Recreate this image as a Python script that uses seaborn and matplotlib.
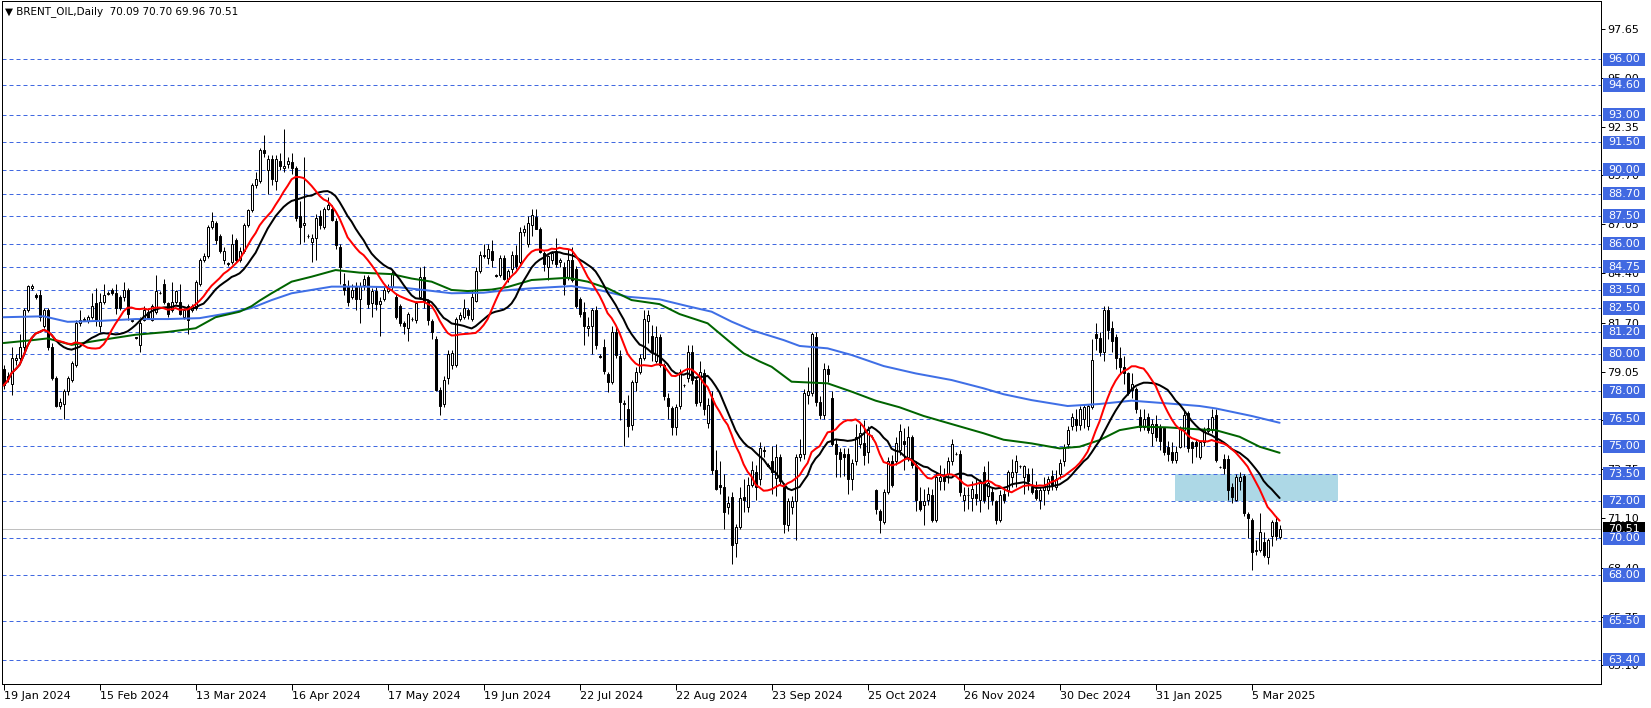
"""
BRENT_OIL daily candlestick chart (MT4 style) with moving averages,
horizontal support/resistance levels and a highlighted price zone.
"""

import numpy as np
import pandas as pd
import matplotlib
matplotlib.use("Agg")
import matplotlib.pyplot as plt
import matplotlib.transforms as mtransforms
from matplotlib.patches import Rectangle
import seaborn as sns


# ---------------------------------------------------------------------------
# Data (one entry per daily bar, oldest first)
# ---------------------------------------------------------------------------
opens = [
    79.2, 78.7, 78.4, 79.7, 79.8, 80.4, 82.4, 83.6, 83.2, 83.2,
    81.5, 82.4, 80.4, 78.7, 77.2, 77.3, 78.0, 78.6, 79.4, 81.67,
    81.85, 81.8, 82.0, 82.75, 81.5, 82.8, 83.25, 83.5, 83.3, 83.1,
    83.1, 83.5, 81.8, 80.9, 80.5, 81.85, 82.3, 81.85, 82.3, 83.3,
    83.8, 82.75, 82.4, 82.8, 82.8, 82.0, 82.6, 82.4, 82.5, 83.8,
    85.1, 85.3, 86.9, 87.1, 86.4, 85.1, 84.9, 85.0, 86.2, 85.1,
    85.6, 87.0, 87.8, 89.2, 89.4, 91.1, 90.0, 90.6, 89.4, 90.5,
    90.1, 90.3, 90.4, 90.1, 87.5, 87.0, 86.4, 86.1, 86.3, 87.5,
    86.9, 87.9, 87.9, 87.2, 85.8, 83.8, 83.7, 83.1, 83.65, 83.0,
    83.75, 84.2, 82.75, 83.4, 82.7, 83.0, 83.4, 83.65, 83.1, 82.6,
    81.7, 81.4, 81.9, 81.85, 83.1, 84.2, 82.9, 81.8, 80.8, 78.05,
    77.3, 78.7, 79.4, 79.4, 81.9, 82.0, 82.4, 81.9, 82.9, 84.5,
    85.4, 85.2, 85.6, 84.3, 84.3, 85.2, 84.1, 84.6, 85.4, 85.0,
    86.6, 86.0, 87.0, 87.45, 86.8, 85.5, 84.75, 85.1, 85.6, 85.0,
    84.7, 84.2, 85.1, 84.6, 83.0, 82.3, 81.4, 81.5, 82.4, 79.9,
    80.4, 78.9, 78.5, 81.2, 79.9, 77.3, 77.0, 76.15, 78.5, 79.0,
    79.8, 81.8, 81.0, 79.6, 80.95, 79.4, 77.6, 77.05, 76.06, 77.2,
    78.3, 78.7, 80.1, 78.6, 77.4, 78.95, 76.24, 77.6, 73.7, 72.9,
    72.8, 71.7, 72.26, 69.72, 70.63, 72.26, 71.7, 72.9, 73.6, 73.2,
    74.8, 74.0, 74.2, 73.25, 74.4, 72.8, 70.7, 71.7, 72.0, 74.4,
    74.6, 77.8, 77.9, 80.9, 77.4, 76.7, 79.2, 77.6, 75.1, 74.7,
    74.6, 74.6, 73.2, 74.2, 75.1, 75.15, 74.7, 75.5, 72.6, 71.5,
    70.9, 72.5, 74.2, 74.2, 74.8, 75.3, 74.4, 75.5, 74.0, 72.0,
    71.8, 72.1, 72.35, 71.0, 73.1, 73.3, 73.5, 74.2, 74.6, 74.6,
    72.1, 72.35, 72.2, 72.4, 72.1, 73.6, 72.3, 72.5, 72.0, 71.0,
    72.4, 72.6, 73.3, 73.6, 73.9, 73.3, 73.5, 72.8, 72.6, 72.1,
    72.6, 72.6, 73.4, 72.8, 73.5, 74.2, 75.1, 76.1, 76.5, 76.15,
    76.5, 76.1, 77.1, 81.1, 80.85, 80.1, 82.4, 81.4, 80.9, 79.8,
    79.3, 78.95, 78.05, 78.1, 76.6, 76.05, 76.6, 75.7, 76.2, 76.05,
    75.96, 74.97, 74.7, 74.25, 74.97, 75.9, 76.8, 75.2, 75.2, 74.4,
    75.2, 75.8, 75.9, 76.7, 73.85, 74.3, 74.3, 72.8, 72.1, 73.1,
    73.4, 71.3, 71.0, 69.3, 69.35, 69.8, 69.0, 70.1, 70.9, 70.09,
]
highs = [
    79.4, 79.0, 80.4, 80.0, 81.1, 82.5, 83.75, 83.8, 83.3, 83.5,
    82.5, 82.5, 80.6, 78.8, 77.6, 78.1, 78.8, 79.6, 81.85, 82.4,
    82.0, 82.1, 83.3, 83.6, 83.3, 83.8, 83.4, 83.6, 83.8, 83.2,
    83.9, 83.6, 81.9, 80.95, 82.0, 82.6, 82.5, 82.7, 84.3, 83.4,
    84.1, 82.8, 83.9, 83.5, 83.8, 82.5, 82.7, 82.7, 84.0, 85.2,
    85.5, 87.0, 87.7, 87.2, 86.5, 85.8, 85.0, 86.5, 86.3, 85.8,
    87.1, 87.9, 89.3, 89.9, 91.2, 91.9, 90.8, 90.8, 90.8, 90.9,
    92.2, 90.7, 90.9, 90.2, 88.3, 90.7, 86.5, 86.5, 87.6, 87.8,
    88.0, 88.5, 88.1, 87.4, 86.0, 84.4, 84.0, 83.8, 83.9, 83.9,
    84.3, 84.3, 83.6, 83.7, 83.1, 83.7, 83.8, 84.5, 83.3, 82.7,
    81.8, 82.3, 82.0, 82.9, 84.7, 84.8, 83.0, 81.9, 81.0, 78.2,
    78.8, 80.2, 80.2, 82.0, 82.3, 83.0, 82.5, 83.5, 84.7, 85.6,
    86.0, 86.0, 86.2, 84.35, 85.4, 85.4, 84.6, 85.6, 85.9, 86.9,
    87.0, 87.5, 87.9, 87.9, 86.9, 85.6, 85.4, 85.6, 86.3, 85.2,
    85.0, 85.7, 85.8, 84.8, 83.1, 82.8, 82.0, 82.5, 82.6, 80.0,
    80.8, 79.0, 81.5, 81.5, 80.2, 77.5, 77.8, 78.6, 79.3, 80.0,
    82.4, 82.4, 81.6, 81.5, 81.1, 79.5, 77.9, 77.2, 77.3, 79.2,
    78.4, 80.5, 80.5, 78.8, 79.6, 79.2, 77.6, 78.0, 74.8, 74.2,
    73.5, 72.3, 72.5, 70.8, 72.8, 73.2, 73.3, 74.2, 74.0, 75.2,
    75.0, 74.1, 75.0, 75.1, 74.6, 73.0, 72.2, 72.3, 74.6, 75.4,
    78.1, 79.3, 81.2, 81.2, 77.7, 79.5, 79.4, 78.0, 75.4, 74.9,
    74.9, 74.9, 74.3, 76.2, 76.3, 76.4, 76.1, 75.6, 72.7, 71.6,
    72.7, 74.4, 74.5, 75.5, 76.2, 76.0, 76.1, 75.6, 74.2, 72.8,
    72.7, 72.8, 72.7, 73.6, 74.0, 73.8, 74.4, 75.4, 74.7, 74.8,
    72.8, 72.8, 73.1, 73.2, 73.2, 73.9, 74.2, 72.8, 72.1, 72.6,
    72.8, 73.7, 74.3, 74.5, 74.0, 74.0, 73.8, 73.8, 73.1, 72.8,
    73.3, 73.4, 73.7, 73.7, 74.3, 75.1, 76.1, 76.8, 77.0, 77.2,
    77.3, 77.3, 80.8, 81.7, 81.2, 82.6, 82.6, 81.8, 81.1, 80.4,
    79.9, 79.05, 78.95, 78.2, 77.0, 77.0, 76.8, 76.5, 76.7, 76.2,
    76.05, 75.3, 75.2, 75.0, 76.1, 76.9, 76.9, 75.3, 75.4, 75.3,
    76.05, 76.5, 77.0, 77.0, 73.9, 74.6, 74.5, 73.0, 73.5, 73.6,
    73.5, 71.4, 71.1, 69.9, 71.35, 70.35, 70.0, 71.0, 71.2, 70.70,
]
lows = [
    78.1, 78.5, 77.8, 79.4, 79.6, 80.0, 82.3, 83.5, 83.0, 81.8,
    81.4, 80.2, 78.6, 77.1, 77.0, 76.5, 77.8, 78.5, 79.3, 81.5,
    81.8, 81.7, 81.9, 81.5, 81.2, 82.7, 83.2, 83.2, 82.2, 82.4,
    82.9, 81.85, 81.75, 80.8, 80.1, 81.8, 81.9, 81.8, 82.2, 83.25,
    82.7, 82.0, 82.3, 82.7, 82.1, 81.9, 81.1, 82.3, 82.4, 83.7,
    85.0, 85.2, 86.8, 86.0, 85.5, 84.9, 84.8, 84.9, 85.0, 85.0,
    85.5, 86.9, 87.7, 89.0, 89.3, 90.7, 88.7, 89.2, 88.9, 90.0,
    89.9, 90.1, 89.8, 87.2, 86.0, 86.1, 86.3, 85.0, 85.1, 86.8,
    86.8, 87.8, 87.2, 85.7, 83.8, 83.2, 82.6, 83.0, 82.4, 81.7,
    83.5, 82.5, 82.0, 82.4, 81.0, 82.9, 83.3, 83.5, 81.9, 81.5,
    81.1, 80.7, 81.8, 81.7, 83.0, 82.5, 81.6, 80.8, 78.0, 76.7,
    77.1, 78.4, 79.2, 79.3, 81.8, 81.9, 81.9, 81.8, 82.8, 84.4,
    85.2, 84.9, 84.7, 84.2, 84.2, 84.0, 83.9, 84.4, 84.6, 84.9,
    86.4, 85.8, 86.4, 86.8, 85.5, 84.5, 84.0, 84.9, 84.7, 84.7,
    83.2, 84.0, 83.9, 82.5, 82.0, 80.5, 81.0, 80.0, 80.3, 79.8,
    78.9, 77.96, 78.4, 79.8, 76.4, 75.0, 75.5, 75.9, 78.0, 78.9,
    79.7, 80.6, 79.6, 79.5, 79.3, 77.5, 76.5, 75.6, 75.6, 77.0,
    78.2, 78.5, 78.4, 77.2, 77.2, 76.7, 76.0, 73.5, 72.6, 72.4,
    70.5, 71.3, 68.6, 69.0, 70.5, 71.4, 71.4, 72.8, 72.1, 72.9,
    74.4, 73.9, 72.4, 72.3, 72.9, 70.3, 70.4, 71.3, 69.9, 74.2,
    74.3, 77.3, 77.7, 77.2, 76.5, 76.5, 78.5, 75.0, 73.3, 73.3,
    73.4, 72.4, 72.6, 74.0, 74.9, 74.0, 74.1, 75.4, 71.3, 70.3,
    70.8, 72.4, 72.8, 74.0, 74.5, 73.7, 74.2, 73.8, 71.5, 71.5,
    70.7, 71.8, 70.9, 70.9, 72.6, 72.6, 73.0, 74.0, 74.5, 72.3,
    71.5, 71.6, 71.5, 71.8, 71.4, 71.9, 71.6, 71.8, 70.8, 70.9,
    71.9, 72.3, 72.8, 72.8, 73.8, 72.4, 72.6, 72.4, 72.1, 71.6,
    71.8, 72.4, 72.6, 72.6, 73.2, 73.9, 74.9, 75.9, 75.8, 75.9,
    76.0, 75.9, 77.0, 80.2, 79.9, 79.6, 80.8, 80.1, 79.2, 78.9,
    78.4, 77.8, 77.6, 76.8, 75.8, 75.9, 75.7, 75.0, 75.3, 74.8,
    74.5, 74.2, 74.1, 74.1, 74.9, 74.97, 74.7, 74.1, 74.4, 74.3,
    75.0, 75.7, 75.7, 74.15, 73.8, 73.5, 72.1, 71.9, 72.0, 72.6,
    71.2, 70.0, 68.27, 69.1, 69.27, 69.0, 68.6, 69.6, 69.9, 69.96,
]
closes = [
    78.3, 78.8, 79.8, 79.8, 80.4, 82.4, 83.7, 83.7, 83.1, 82.0,
    82.4, 80.4, 78.7, 77.2, 77.4, 78.0, 78.7, 79.5, 81.7, 81.85,
    81.9, 82.0, 82.6, 81.85, 82.8, 83.2, 83.3, 83.3, 82.5, 82.5,
    83.5, 82.2, 81.85, 80.85, 81.7, 82.4, 81.95, 82.6, 83.4, 83.3,
    82.8, 82.2, 82.8, 83.4, 82.2, 82.4, 81.85, 82.6, 83.9, 85.1,
    85.3, 86.9, 87.2, 86.2, 85.6, 85.6, 84.95, 86.0, 85.1, 85.6,
    87.0, 87.8, 89.2, 89.5, 91.1, 90.9, 90.6, 89.5, 90.6, 90.2,
    90.2, 90.5, 90.1, 87.4, 86.9, 87.1, 86.4, 86.3, 87.4, 87.0,
    87.9, 88.1, 87.3, 85.9, 84.7, 83.5, 82.8, 83.5, 83.0, 83.7,
    84.1, 82.7, 83.4, 82.7, 82.9, 83.5, 83.65, 84.4, 82.0, 81.7,
    81.5, 82.2, 81.9, 82.75, 84.2, 82.9, 81.85, 81.2, 78.05, 77.2,
    78.6, 80.0, 80.05, 81.9, 82.1, 82.5, 82.1, 83.1, 84.5, 85.4,
    85.3, 85.7, 85.1, 84.25, 85.2, 84.1, 84.5, 85.4, 84.8, 86.6,
    86.8, 87.1, 87.55, 86.8, 85.55, 84.9, 85.3, 85.5, 84.9, 85.1,
    83.8, 85.1, 84.0, 82.6, 82.2, 81.5, 81.5, 82.4, 80.5, 79.85,
    79.1, 78.5, 81.2, 79.95, 77.4, 77.35, 76.1, 78.5, 79.0, 79.8,
    81.9, 82.1, 80.1, 80.9, 79.4, 77.7, 77.2, 76.06, 77.14, 79.0,
    78.3, 80.1, 78.6, 77.35, 79.0, 77.0, 77.23, 73.7, 72.7, 72.8,
    71.45, 71.9, 69.63, 70.63, 72.17, 72.1, 72.9, 73.7, 72.8, 74.9,
    74.75, 73.95, 73.6, 74.4, 73.1, 70.8, 72.0, 72.0, 74.4, 74.6,
    77.9, 78.0, 81.1, 77.4, 76.7, 79.2, 78.9, 75.1, 74.6, 74.3,
    74.4, 73.2, 74.1, 75.5, 75.7, 74.5, 75.9, 75.5, 71.6, 71.0,
    72.5, 74.2, 72.9, 75.15, 75.8, 75.1, 75.5, 74.0, 72.1, 71.6,
    72.0, 72.4, 71.0, 73.3, 73.3, 73.1, 74.2, 75.1, 74.6, 72.5,
    72.35, 72.35, 72.7, 72.2, 73.0, 72.1, 73.0, 72.1, 71.0, 72.35,
    72.1, 73.6, 73.6, 74.2, 73.9, 73.9, 73.1, 72.5, 72.2, 72.6,
    72.8, 73.2, 72.9, 73.2, 74.1, 74.9, 75.9, 76.6, 76.15, 77.0,
    77.1, 77.2, 79.7, 80.85, 80.1, 82.4, 81.3, 80.7, 79.8, 79.3,
    78.95, 77.9, 78.4, 77.0, 76.05, 76.5, 75.9, 76.2, 75.5, 75.3,
    74.7, 74.6, 74.25, 74.7, 75.96, 76.7, 74.9, 74.9, 75.0, 75.2,
    75.9, 75.96, 76.6, 74.25, 73.85, 73.8, 72.6, 72.25, 73.3, 73.3,
    71.35, 71.1, 69.27, 69.35, 70.35, 69.1, 69.9, 70.9, 70.1, 70.51,
]

# Long moving averages (green / blue) at sample bars
green_bars = [0, 7, 11, 17, 24, 33, 41, 48, 53, 59, 62, 64, 67, 72, 77, 83,
              89, 97, 102, 107, 112, 116, 122, 126, 132, 141, 146, 151, 157,
              164, 169, 176, 181, 185, 189, 192, 197, 206, 212, 218, 224,
              230, 237, 245, 250, 257, 264, 269, 274, 279, 284, 291, 299,
              303, 309, 314, 319]
green_vals = [80.6, 80.75, 80.85, 80.5, 80.75, 81.05, 81.2, 81.4, 82.0, 82.3,
              82.6, 82.9, 83.3, 83.93, 84.2, 84.56, 84.42, 84.34, 84.1, 83.93,
              83.48, 83.42, 83.5, 83.64, 84.02, 84.14, 83.93, 83.57, 82.93,
              82.71, 82.17, 81.67, 80.76, 80.04, 79.6, 79.31, 78.5, 78.41,
              77.96, 77.47, 77.11, 76.64, 76.2, 75.7, 75.35, 75.15, 74.88,
              74.97, 75.33, 75.87, 76.06, 76.02, 75.91, 75.87, 75.51, 74.97,
              74.64]
blue_bars = [0, 10, 16, 24, 33, 41, 49, 57, 62, 67, 72, 77, 82, 90, 99, 105,
             112, 120, 125, 132, 142, 149, 156, 164, 171, 177, 182, 187, 195,
             199, 206, 212, 220, 228, 237, 245, 250, 257, 266, 274, 282, 291,
             299, 303, 312, 319]
blue_vals = [82.0, 82.05, 81.75, 81.8, 81.9, 81.9, 81.95, 82.25, 82.5, 82.93,
             83.3, 83.48, 83.66, 83.66, 83.62, 83.48, 83.3, 83.33, 83.45,
             83.57, 83.69, 83.47, 83.11, 82.97, 82.6, 82.3, 81.76, 81.3,
             80.76, 80.44, 80.31, 79.95, 79.35, 78.95, 78.59, 78.14, 77.82,
             77.5, 77.18, 77.29, 77.47, 77.32, 77.18, 77.05, 76.64, 76.27]

# Horizontal levels with their axis boxes, and the price axis ticks
levels = [96.00, 94.60, 93.00, 91.50, 90.00, 88.70, 87.50, 86.00, 84.75,
          83.50, 82.50, 81.20, 80.00, 78.00, 76.50, 75.00, 73.50, 72.00,
          70.00, 68.00, 65.50, 63.40]
price_ticks = [97.65, 95.00, 92.35, 89.70, 87.05, 84.40, 81.70, 79.05, 76.40,
               73.75, 71.10, 68.40, 65.75, 63.10]
last_price = 70.51

date_labels = ["19 Jan 2024", "15 Feb 2024", "13 Mar 2024", "16 Apr 2024",
               "17 May 2024", "19 Jun 2024", "22 Jul 2024", "22 Aug 2024",
               "23 Sep 2024", "25 Oct 2024", "26 Nov 2024", "30 Dec 2024",
               "31 Jan 2025", "5 Mar 2025"]
bars_per_label = 24

# zone box: bar range and price range
zone_bars = [292.85, 333.6]
zone_prices = [72.0, 73.5]

title = "\u25bc BRENT_OIL,Daily  70.09 70.70 69.96 70.51"

W, H = 1651, 708
PX = 0.72  # one pixel in points at dpi 100


def draw_candles(ax, df):
    """Draw wicks and bodies, MT4 style (hollow up, filled down)."""
    x = df.index.values
    ax.vlines(x, df["low"], df["high"], color="black", linewidth=PX, zorder=2)
    up = df["close"] >= df["open"]
    bottom = np.minimum(df["open"], df["close"])
    height = (df["close"] - df["open"]).abs()
    ax.bar(x[up], height[up], bottom=bottom[up], width=0.5,
           facecolor="white", edgecolor="black", linewidth=PX, zorder=3)
    ax.bar(x[~up], height[~up], bottom=bottom[~up], width=0.5,
           facecolor="black", edgecolor="black", linewidth=PX, zorder=3)


def price_box(ax, y, text, color, half=0.36):
    """Coloured label box sitting just right of the price axis."""
    trans = mtransforms.blended_transform_factory(ax.transAxes, ax.transData)
    x0 = 1.0 + 2 / 1599
    w = 42 / 1599
    ax.add_patch(Rectangle((x0, y - half), w, 2 * half, transform=trans,
                           facecolor=color, edgecolor="none",
                           clip_on=False, zorder=6))
    ax.text(x0 + w / 2, y, text, transform=trans, color="white",
            fontsize=8, ha="center", va="center", clip_on=False, zorder=7)


def main():
    sns.set_style("white")
    plt.rcParams["font.family"] = ["DejaVu Sans"]

    df = pd.DataFrame({"open": opens, "high": highs,
                       "low": lows, "close": closes})
    df["ma_fast"] = df["close"].rolling(14, min_periods=1).mean()
    df["ma_slow"] = df["close"].rolling(20, min_periods=1).mean()

    fig = plt.figure(figsize=(W / 100, H / 100), dpi=100)
    ax = fig.add_axes([2 / W, 24 / H, 1599 / W, 683 / H])

    # horizontal levels and last price line
    for lv in levels:
        ax.axhline(lv, color="#4169E1", linewidth=PX,
                   linestyle=(0, (4, 3)), zorder=1)
    ax.axhline(last_price, color="#C0C0C0", linewidth=PX, zorder=1)

    # zone rectangle (drawn as background)
    ax.add_patch(Rectangle((zone_bars[0], zone_prices[0]),
                           zone_bars[1] - zone_bars[0],
                           zone_prices[1] - zone_prices[0],
                           facecolor="#ADD8E6", edgecolor="none", zorder=0.5))

    draw_candles(ax, df)

    # moving averages
    sns.lineplot(x=blue_bars, y=blue_vals, ax=ax, color="#3F6FE6",
                 linewidth=2 * PX, zorder=4)
    sns.lineplot(x=green_bars, y=green_vals, ax=ax, color="#006400",
                 linewidth=2 * PX, zorder=4)
    sns.lineplot(x=df.index, y=df["ma_slow"], ax=ax, color="black",
                 linewidth=2 * PX, zorder=5)
    sns.lineplot(x=df.index, y=df["ma_fast"], ax=ax, color="red",
                 linewidth=2 * PX, zorder=5)

    ax.set_xlim(-0.4, 399.35)
    ax.set_ylim(62.09, 99.165)
    ax.set_xlabel("")
    ax.set_ylabel("")

    # price axis on the right
    ax.yaxis.tick_right()
    ax.set_yticks(price_ticks)
    ax.set_yticklabels([f"{v:.2f}" for v in price_ticks])
    ax.tick_params(axis="y", which="both", right=True, left=False,
                   length=3, width=PX, pad=1.5, labelsize=8, colors="black")

    # date axis
    xt = [i * bars_per_label for i in range(len(date_labels))]
    ax.set_xticks(xt)
    ax.set_xticklabels(date_labels, ha="left")
    ax.tick_params(axis="x", bottom=True, length=4, width=PX, pad=1,
                   labelsize=8, colors="black")

    for s in ax.spines.values():
        s.set_visible(True)
        s.set_color("black")
        s.set_linewidth(PX)

    # level boxes on the axis (last price first, levels on top)
    price_box(ax, last_price, f"{last_price:.2f}", "black")
    for lv in levels:
        price_box(ax, lv, f"{lv:.2f}", "#4169E1")

    ax.text(3 / 1599, 1 - 5 / 683, title, transform=ax.transAxes,
            fontsize=7.5, ha="left", va="top", color="black")

    fig.savefig("out.png", dpi=100)


if __name__ == "__main__":
    main()
